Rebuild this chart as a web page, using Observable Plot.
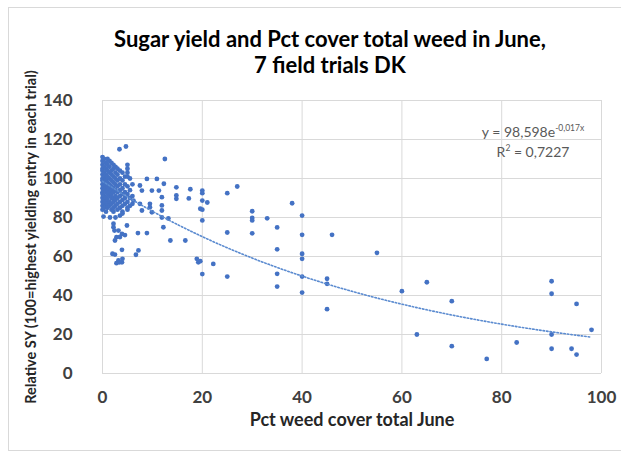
<!DOCTYPE html>
<html><head><meta charset="utf-8">
<script src="https://cdn.jsdelivr.net/npm/d3@7"></script>
<script src="https://cdn.jsdelivr.net/npm/@observablehq/plot@0.6"></script>
<style>
body{margin:0;background:#fff;font-family:Lato,"Open Sans",sans-serif;}
#wrap{position:relative;width:621px;height:452px;overflow:hidden;background:#fff;}
#frame{position:absolute;left:8px;top:7px;width:640px;height:444px;border:1px solid #d9d9d9;box-sizing:border-box;}
#title{position:absolute;left:0;width:660px;top:26px;text-align:center;font-weight:bold;font-size:22px;line-height:26px;color:#000;}
#eq{position:absolute;left:468px;top:122px;width:130px;text-align:center;font-size:14px;line-height:20px;color:#595959;}
#eq sup{font-size:8.5px;line-height:0;}
#chart{position:absolute;left:0;top:0;}
</style>
</head><body>
<div id="wrap">
<div id="frame"></div>
<div id="chart"></div>
<div id="title">Sugar yield and Pct cover total weed in June,<br>7 field trials DK</div>
<div id="eq">y = 98,598e<sup>-0,017x</sup><br>R<sup>2</sup> = 0,7227</div>
</div>
<script>
// Dense cluster (low weed cover) [pct cover, relative SY]
const clusterPoints = [
 [0,111],[0,109],[0,107],[0,105],[0,104],[0,102],[0,100],[0,99],[0,97],[0,95],[0,93],[0,92],[0,90],[0,88],[0,86],[0,84],
 [0.3,110],[0.3,106],[0.3,103],[0.3,101],[0.3,98],[0.3,96],[0.3,94],[0.3,91],[0.3,89],[0.3,87],[0.3,85],
 [0.7,108],[0.7,105],[0.7,102],[0.7,100],[0.7,99],[0.7,97],[0.7,95],[0.7,93],[0.7,90],[0.7,88],[0.7,86],[0.7,83],
 [1,110],[1,107],[1,104],[1,101],[1,98],[1,96],[1,94],[1,92],[1,89],[1,87],[1,85],
 [1.4,109],[1.4,106],[1.4,103],[1.4,100],[1.4,97],[1.4,95],[1.4,93],[1.4,91],[1.4,88],[1.4,86],
 [1.8,108],[1.8,104],[1.8,102],[1.8,99],[1.8,96],[1.8,94],[1.8,92],[1.8,90],[1.8,87],[1.8,84],
 [2.2,107],[2.2,105],[2.2,101],[2.2,98],[2.2,95],[2.2,93],[2.2,90],[2.2,88],[2.2,85],[2.2,83],
 [2.6,106],[2.6,103],[2.6,100],[2.6,97],[2.6,94],[2.6,91],[2.6,89],[2.6,86],
 [3,105],[3,102],[3,99],[3,96],[3,93],[3,90],[3,87],[3,84],
 [3.5,104],[3.5,100],[3.5,97],[3.5,94],[3.5,91],[3.5,88],[3.5,85],
 [4,103],[4,99],[4,95],[4,92],[4,89],[4,86],[4,83],
 [4.5,101],[4.5,97],[4.5,93],[4.5,90],[4.5,87],
 [5,107],[5,105],[5,103],[5,101],[5,96],[5,92],[5,88],[5,85],
 [5.5,100],[5.5,94],[5.5,90],[5.5,86],
 [6,97],[6,91],[6,87]
];
// Low cover points below the cluster
const lowCoverPoints = [
 [0.2,80.5],[1.5,80],[2.6,80],[3.5,81],[4,82],[2.2,76.8],[2.2,75],[2.4,73.3],[4.9,75.9],
 [3.2,73.3],[3.9,71.6],[4.5,71],[2.8,69.9],[2.5,68.2],[3.5,70],[2.5,61],[2,61.4],[3.9,63.4],
 [3.2,58],[3.9,57],[2.8,56.6],[4,58.8],[3.4,57],[3.4,115],[4.7,116.4]
];
// Medium cover points
const midPoints = [
 [12.5,110],[8.9,99.8],[10.9,99.8],[12.3,97.3],[14.8,95.5],[7.5,96.4],[7.9,93.8],[9.9,93.8],[11.3,93.8],
 [14.8,91.3],[14.8,89.6],[17.6,94.5],[17.3,89.8],[11.9,90.4],[6.2,88.7],[7.5,87],[9.5,87],[11.9,86.2],
 [5,84],[7.9,83.6],[9.5,85.3],[9.9,82.7],[11.9,83.6],[11.9,80],[13.2,79.5],[12.2,75],[7.1,72],[8.9,72],
 [13.6,68.2],[16.6,68.2],[7.2,63.1],[6.7,60.9],[18.9,58.8],[19.2,57],[20,51],
 [20,93.8],[20,92.5],[20,88.7],[21,87.7],[20,84],[19.6,84.5],[20,78.5],[19.6,57.6],[22.2,56.2],
 [25,92.5],[27,95.9],[30,83.2],[30,79.8],[30,78.5],[33,79.6],[38,87.3],[40,81],
 [25,72.3],[30,71.9],[35,74.9],[40,71.1],[46,71.1],[35,63.7],[40,61.4],[40,58.8],[55,61.9],
 [25,49.7],[35,51.1],[40,49.7],[45,48.6],[45,46],[35,44.6],[40,41.5],[45,33],[60,42.2]
];
// High cover points
const highPoints = [
 [65,46.8],[70,37.1],[63,20],[70,14],[77,7.5],[83,15.9],[90,47.3],[90,40.9],[95,35.7],
 [90,20],[90,12.7],[94,12.7],[95,9.7],[98,22.4]
];
// Exponential trendline shown on the chart: y = 98.598 e^(-0.017x)
const trendA = 98.598, trendB = -0.017, trendRange = [0, 98];
const xTicks = [0, 20, 40, 60, 80, 100];
const yTicks = [0, 20, 40, 60, 80, 100, 120, 140];
const yTitle = "Relative SY (100=highest yielding entry in each trial)";
const xTitle = "Pct weed cover total June";

const points = [...clusterPoints, ...lowCoverPoints, ...midPoints, ...highPoints].map(([x, y]) => ({x, y}));
const trend = d3.range(trendRange[0], trendRange[1] + 0.5, 1).map(x => ({x, y: trendA * Math.exp(trendB * x)}));

const blue = "#4472c4";
const chart = Plot.plot({
  width: 621, height: 452,
  marginLeft: 102, marginRight: 20, marginTop: 100, marginBottom: 79,
  style: {fontFamily: "Lato, sans-serif", background: "transparent", overflow: "visible"},
  x: {domain: [0, 100]},
  y: {domain: [0, 140]},
  marks: [
    Plot.gridX(xTicks, {stroke: "#d9d9d9", strokeOpacity: 1, strokeWidth: 1}),
    Plot.gridY(yTicks, {stroke: "#d9d9d9", strokeOpacity: 1, strokeWidth: 1}),
    Plot.axisX({ticks: xTicks, tickSize: 0, tickPadding: 17, fontSize: 17, fontWeight: "bold", color: "#404040", label: null}),
    Plot.axisY({ticks: yTicks, tickSize: 0, tickPadding: 30, fontSize: 17, fontWeight: "bold", color: "#404040", label: null}),
    Plot.text([xTitle], {frameAnchor: "bottom", dy: 52, fontSize: 18, fontWeight: "bold", fill: "#262626"}),
    Plot.text([yTitle], {frameAnchor: "left", textAnchor: "middle", dx: -71, rotate: -90, fontSize: 14.5, fontWeight: "bold", fill: "#262626"}),
    Plot.dot(points, {x: "x", y: "y", r: 2.4, fill: blue, stroke: "none"}),
    Plot.line(trend, {x: "x", y: "y", stroke: "#5b8bd0", strokeWidth: 1.6, strokeDasharray: "1.5,2"})
  ]
});
document.getElementById("chart").appendChild(chart);
</script>
</body></html>
